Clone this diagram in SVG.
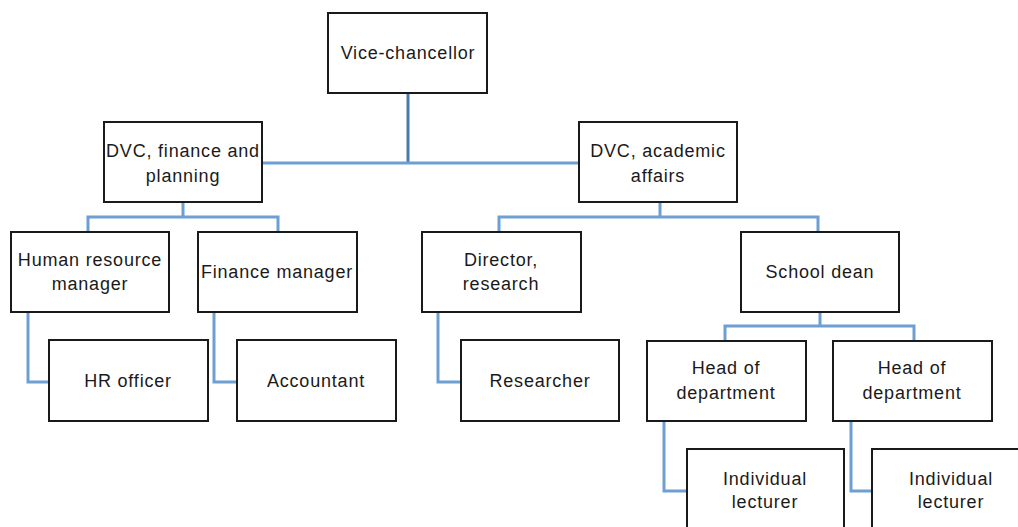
<svg xmlns="http://www.w3.org/2000/svg" width="1018" height="527" viewBox="0 0 1018 527">
<style>
.box{fill:#fff;stroke:#1a1a1a;stroke-width:2}
.t{font-family:"Liberation Sans",Arial,sans-serif;font-size:18px;fill:#1a1a1a;text-anchor:middle;letter-spacing:0.8px}
.c{fill:none;stroke:#6d9fd3;stroke-width:3}
.c0{fill:none;stroke:#4a7aab;stroke-width:3}
</style>
<rect width="1018" height="527" fill="#fff"/>
<g id="connectors">
<path class="c0" d="M408 93V163"/>
<path class="c" d="M262 163H579"/>
<path class="c" d="M183 202V217M88 232V217H278V232"/>
<path class="c" d="M660 202V217M499 232V217H818V232"/>
<path class="c" d="M820 312V326M725 341V326H914V341"/>
<path class="c" d="M28 312V382H49"/>
<path class="c" d="M214 312V382H237"/>
<path class="c" d="M438 312V382H461"/>
<path class="c" d="M664 421V491H687"/>
<path class="c" d="M851 421V491H872"/>
</g>
<g id="vc"><rect class="box" x="328" y="13" width="159" height="80"/><text class="t" x="408" y="59">Vice-chancellor</text></g>
<g id="dvcf"><rect class="box" x="104" y="122" width="158" height="80"/><text class="t" x="183" y="157">DVC, finance and</text><text class="t" x="183" y="182">planning</text></g>
<g id="dvca"><rect class="box" x="579" y="122" width="158" height="80"/><text class="t" x="658" y="157">DVC, academic</text><text class="t" x="658" y="182">affairs</text></g>
<g id="hrm"><rect class="box" x="11" y="232" width="158" height="80"/><text class="t" x="90" y="266">Human resource</text><text class="t" x="90" y="290">manager</text></g>
<g id="fm"><rect class="box" x="198" y="232" width="159" height="80"/><text class="t" x="277" y="278">Finance manager</text></g>
<g id="dr"><rect class="box" x="422" y="232" width="159" height="80"/><text class="t" x="501" y="266">Director,</text><text class="t" x="501" y="290">research</text></g>
<g id="sd"><rect class="box" x="741" y="232" width="158" height="80"/><text class="t" x="820" y="278">School dean</text></g>
<g id="hro"><rect class="box" x="49" y="340" width="159" height="81"/><text class="t" x="128" y="387">HR officer</text></g>
<g id="acc"><rect class="box" x="237" y="340" width="159" height="81"/><text class="t" x="316" y="387">Accountant</text></g>
<g id="res"><rect class="box" x="461" y="340" width="158" height="81"/><text class="t" x="540" y="387">Researcher</text></g>
<g id="hod1"><rect class="box" x="647" y="341" width="159" height="80"/><text class="t" x="726" y="374">Head of</text><text class="t" x="726" y="399">department</text></g>
<g id="hod2"><rect class="box" x="833" y="341" width="159" height="80"/><text class="t" x="912" y="374">Head of</text><text class="t" x="912" y="399">department</text></g>
<g id="il1"><rect class="box" x="687" y="449" width="157" height="82"/><text class="t" x="765" y="485">Individual</text><text class="t" x="765" y="508">lecturer</text></g>
<g id="il2"><rect class="box" x="872" y="449" width="158" height="82"/><text class="t" x="951" y="485">Individual</text><text class="t" x="951" y="508">lecturer</text></g>
</svg>
